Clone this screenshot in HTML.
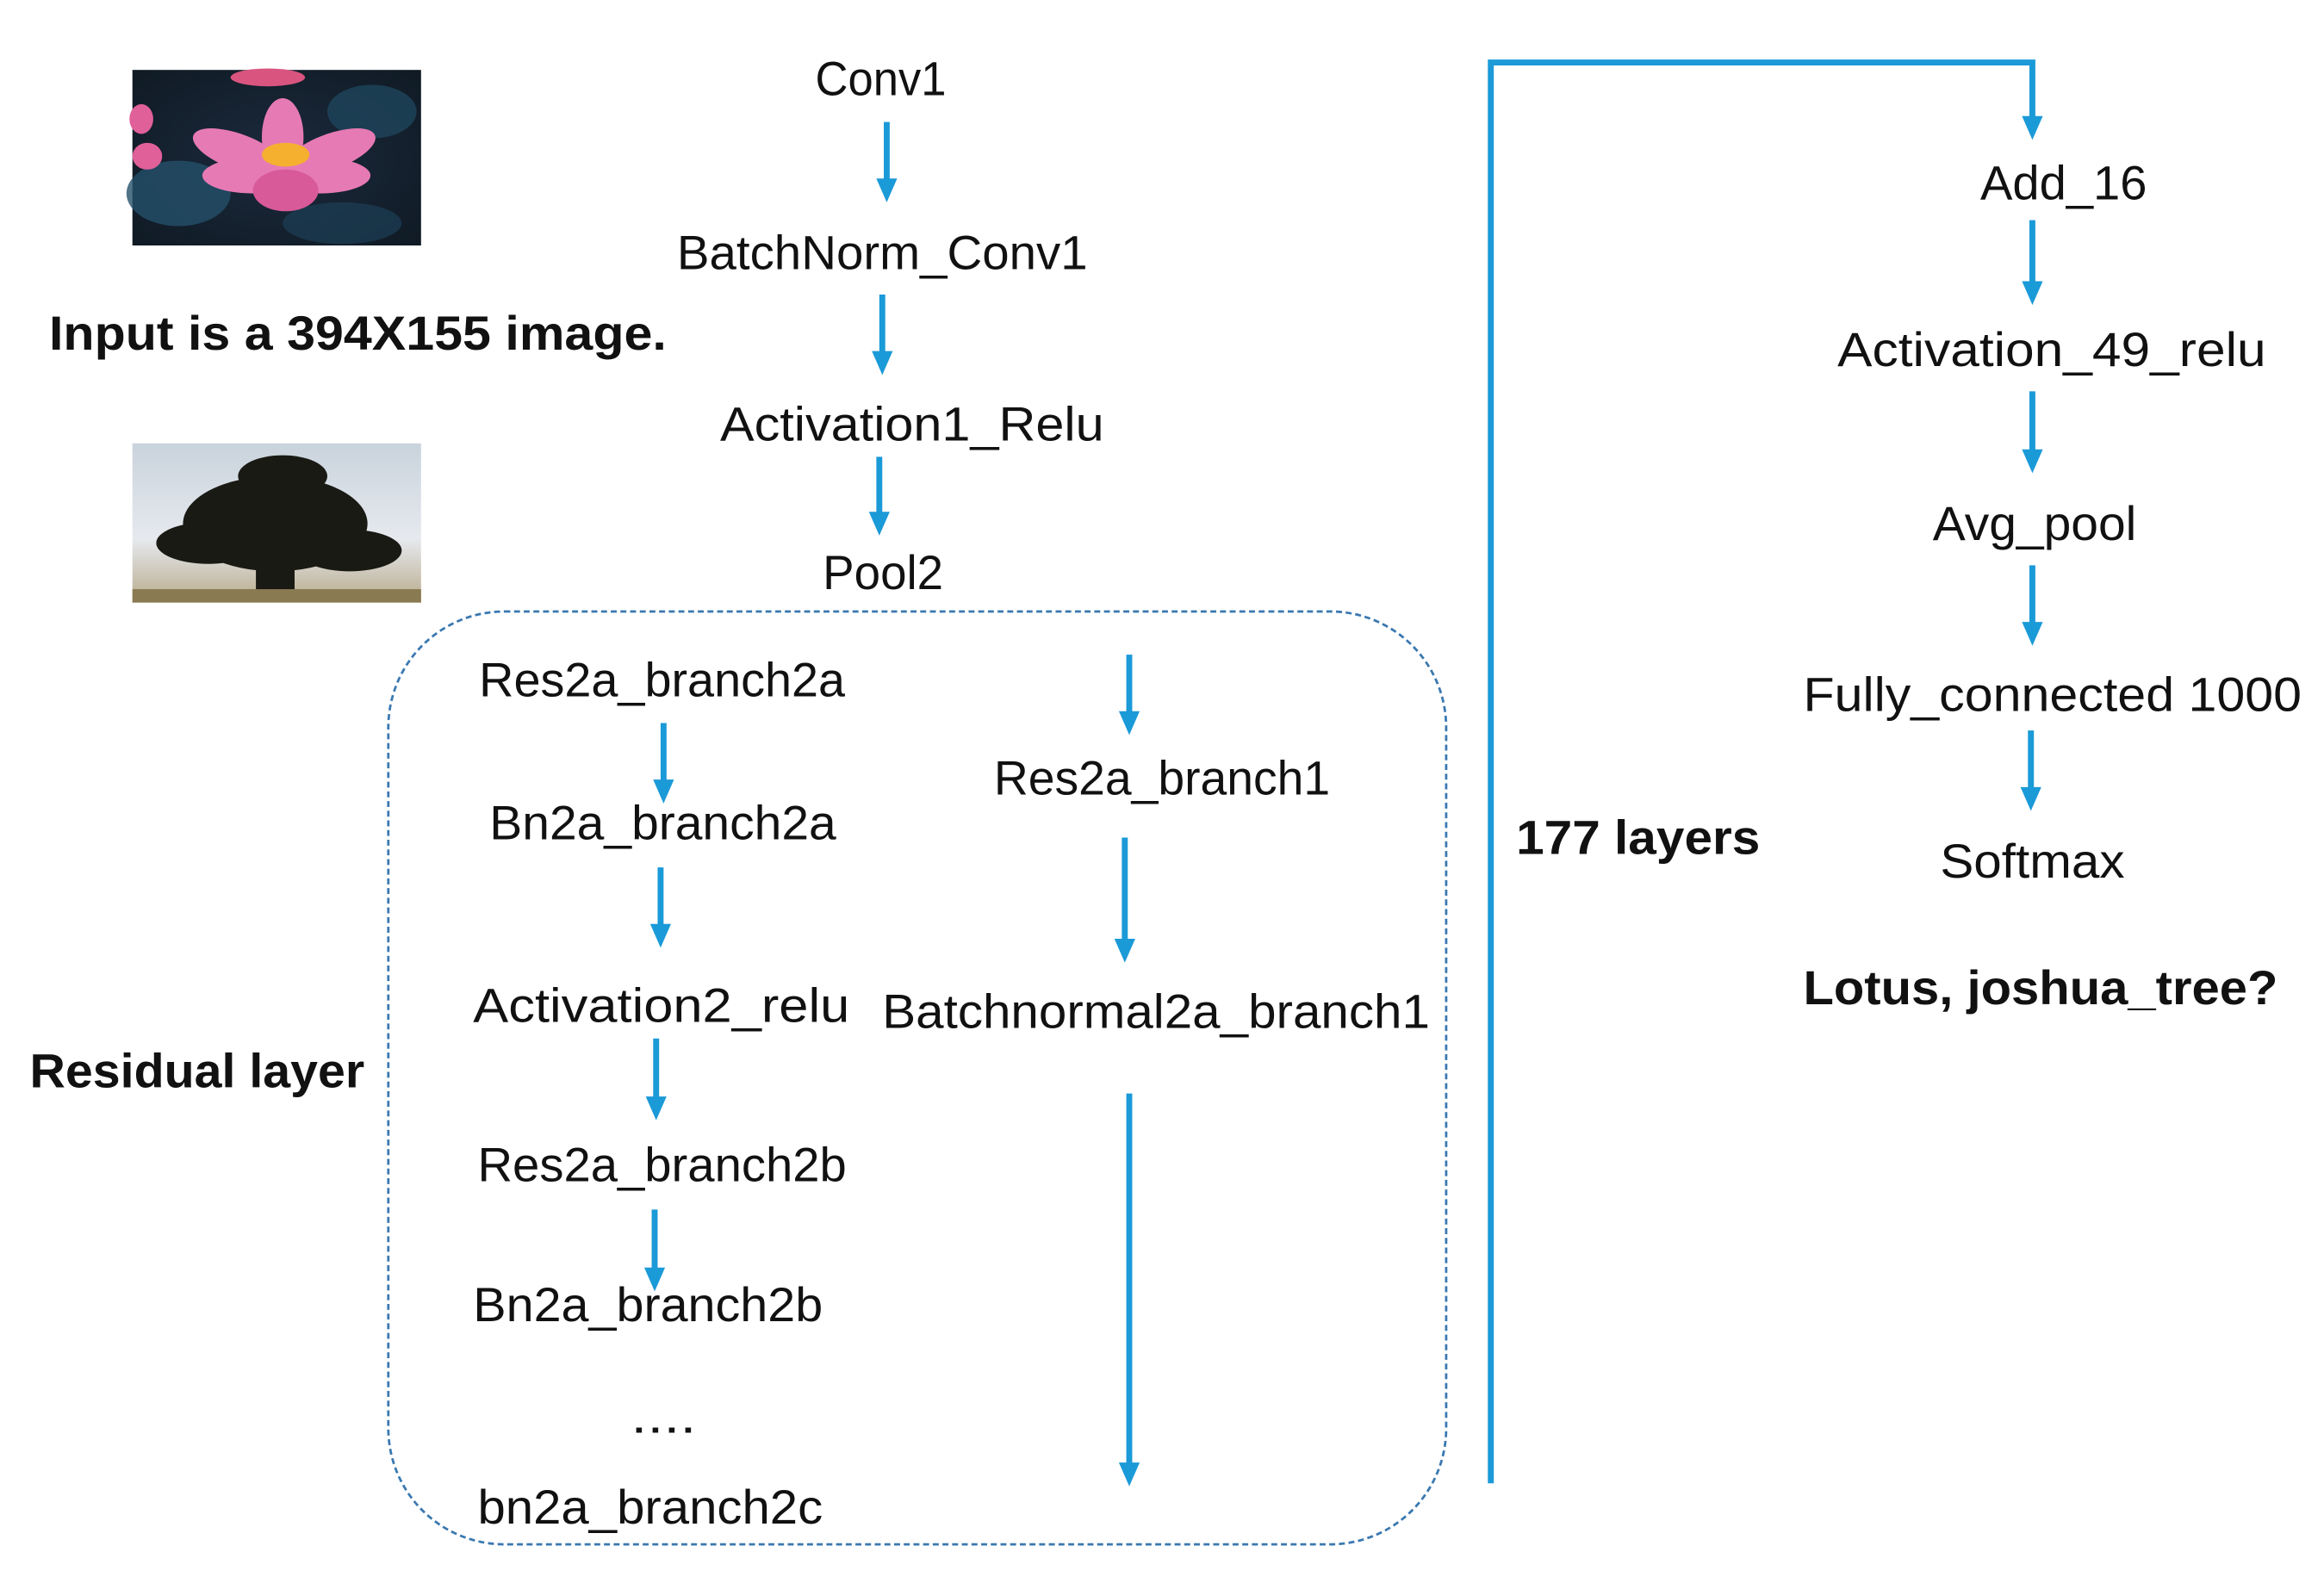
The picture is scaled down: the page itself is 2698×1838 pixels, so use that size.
<!DOCTYPE html>
<html><head><meta charset="utf-8"><style>
html,body{margin:0;padding:0;background:#fff;}
svg{display:block;}
text{font-family:"Liberation Sans",sans-serif;fill:#111;font-size:32px;}
.b{font-weight:bold;font-size:32px;}
</style></head><body>
<svg width="2698" height="1838" viewBox="0 0 1562 1064" preserveAspectRatio="none" xmlns="http://www.w3.org/2000/svg">
<defs>
<linearGradient id="sky" x1="0" y1="0" x2="0" y2="1"><stop offset="0" stop-color="#c9d3dc"/><stop offset="0.6" stop-color="#e6e9ee"/><stop offset="1" stop-color="#b8ab8c"/></linearGradient>
<radialGradient id="pond" cx="0.5" cy="0.5" r="0.7"><stop offset="0" stop-color="#1c2a3c"/><stop offset="1" stop-color="#0f1a24"/></radialGradient>
</defs>
<!-- lotus image -->
<rect x="89" y="47" width="194" height="118" fill="url(#pond)"/>
<ellipse cx="120" cy="130" rx="35" ry="22" fill="#24506a" opacity="0.8"/>
<ellipse cx="250" cy="75" rx="30" ry="18" fill="#1f4a63" opacity="0.7"/>
<ellipse cx="230" cy="150" rx="40" ry="14" fill="#1d3e55" opacity="0.7"/>
<ellipse cx="180" cy="52" rx="25" ry="6" fill="#d9557f"/>
<ellipse cx="95" cy="80" rx="8" ry="10" fill="#e0609a"/>
<ellipse cx="99" cy="105" rx="10" ry="9" fill="#e0609a"/>
<g fill="#e67ab4">
<ellipse cx="190" cy="92" rx="14" ry="26"/>
<ellipse cx="160" cy="102" rx="32" ry="12" transform="rotate(20 160 102)"/>
<ellipse cx="222" cy="102" rx="32" ry="12" transform="rotate(-20 222 102)"/>
<ellipse cx="170" cy="118" rx="34" ry="12"/>
<ellipse cx="215" cy="118" rx="34" ry="12"/>
<ellipse cx="192" cy="128" rx="22" ry="14" fill="#d85a98"/>
</g>
<ellipse cx="192" cy="104" rx="16" ry="8" fill="#f5b030"/>
<!-- tree image -->
<rect x="89" y="298" width="194" height="107" fill="url(#sky)"/>
<g fill="#1a1a14">
<ellipse cx="185" cy="352" rx="62" ry="32"/>
<ellipse cx="140" cy="365" rx="35" ry="14"/>
<ellipse cx="235" cy="370" rx="35" ry="14"/>
<rect x="172" y="360" width="26" height="38"/>
<ellipse cx="190" cy="320" rx="30" ry="14"/>
</g>
<rect x="89" y="396" width="194" height="9" fill="#8a7a52"/>

<g lengthAdjust="spacingAndGlyphs">
<text class="b" x="33" y="235" textLength="415" lengthAdjust="spacingAndGlyphs">Input is a 394X155 image.</text>
<text class="b" x="20" y="731" textLength="225" lengthAdjust="spacingAndGlyphs">Residual layer</text>
<text class="b" x="1019" y="574" textLength="164" lengthAdjust="spacingAndGlyphs">177 layers</text>
<text class="b" x="1212" y="675" textLength="319" lengthAdjust="spacingAndGlyphs">Lotus, joshua_tree?</text>

<text x="548" y="64" textLength="88" lengthAdjust="spacingAndGlyphs">Conv1</text>
<text x="455" y="181" textLength="276" lengthAdjust="spacingAndGlyphs">BatchNorm_Conv1</text>
<text x="484" y="296" textLength="258" lengthAdjust="spacingAndGlyphs">Activation1_Relu</text>
<text x="553" y="396" textLength="81" lengthAdjust="spacingAndGlyphs">Pool2</text>

<text x="322" y="468" textLength="246" lengthAdjust="spacingAndGlyphs">Res2a_branch2a</text>
<text x="329" y="564" textLength="233" lengthAdjust="spacingAndGlyphs">Bn2a_branch2a</text>
<text x="318" y="687" textLength="253" lengthAdjust="spacingAndGlyphs">Activation2_relu</text>
<text x="321" y="794" textLength="248" lengthAdjust="spacingAndGlyphs">Res2a_branch2b</text>
<text x="318" y="888" textLength="235" lengthAdjust="spacingAndGlyphs">Bn2a_branch2b</text>
<text x="424" y="963" textLength="44" lengthAdjust="spacingAndGlyphs">....</text>
<text x="321" y="1024" textLength="232" lengthAdjust="spacingAndGlyphs">bn2a_branch2c</text>
<text x="668" y="534" textLength="226" lengthAdjust="spacingAndGlyphs">Res2a_branch1</text>
<text x="593" y="691" textLength="368" lengthAdjust="spacingAndGlyphs">Batchnormal2a_branch1</text>

<text x="1331" y="134" textLength="112" lengthAdjust="spacingAndGlyphs">Add_16</text>
<text x="1235" y="246" textLength="288" lengthAdjust="spacingAndGlyphs">Activation_49_relu</text>
<text x="1299" y="363" textLength="137" lengthAdjust="spacingAndGlyphs">Avg_pool</text>
<text x="1212" y="478" textLength="335" lengthAdjust="spacingAndGlyphs">Fully_connected 1000</text>
<text x="1304" y="590" textLength="124" lengthAdjust="spacingAndGlyphs">Softmax</text>
</g>

<rect x="261" y="411" width="711" height="627" rx="78" ry="78" fill="none" stroke="#3a78b0" stroke-width="1.6" stroke-dasharray="4,2.5"/>

<g stroke="#1b9ad8" stroke-width="4" fill="none">
<line x1="596" y1="82" x2="596" y2="124"/>
<line x1="593" y1="198" x2="593" y2="240"/>
<line x1="591" y1="307" x2="591" y2="348"/>
<line x1="446" y1="486" x2="446" y2="528"/>
<line x1="444" y1="583" x2="444" y2="625"/>
<line x1="441" y1="698" x2="441" y2="741"/>
<line x1="440" y1="813" x2="440" y2="856"/>
<line x1="759" y1="440" x2="759" y2="482"/>
<line x1="756" y1="563" x2="756" y2="635"/>
<line x1="759" y1="735" x2="759" y2="987"/>
<polyline points="1002,997 1002,42 1366,42 1366,82"/>
<line x1="1366" y1="148" x2="1366" y2="193"/>
<line x1="1366" y1="263" x2="1366" y2="306"/>
<line x1="1366" y1="380" x2="1366" y2="422"/>
<line x1="1365" y1="491" x2="1365" y2="533"/>
</g>
<g fill="#1b9ad8">
<path d="M589,120 h14 l-7,16 z"/>
<path d="M586,236 h14 l-7,16 z"/>
<path d="M584,344 h14 l-7,16 z"/>
<path d="M439,524 h14 l-7,16 z"/>
<path d="M437,621 h14 l-7,16 z"/>
<path d="M434,737 h14 l-7,16 z"/>
<path d="M433,852 h14 l-7,16 z"/>
<path d="M752,478 h14 l-7,16 z"/>
<path d="M749,631 h14 l-7,16 z"/>
<path d="M752,983 h14 l-7,16 z"/>
<path d="M1359,78 h14 l-7,16 z"/>
<path d="M1359,189 h14 l-7,16 z"/>
<path d="M1359,302 h14 l-7,16 z"/>
<path d="M1359,418 h14 l-7,16 z"/>
<path d="M1358,529 h14 l-7,16 z"/>
</g>
</svg>
</body></html>
